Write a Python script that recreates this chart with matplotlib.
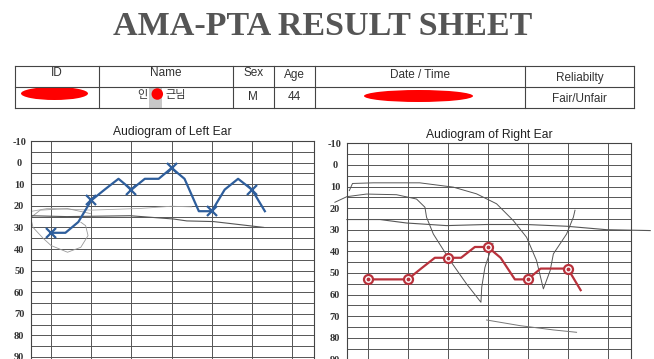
import matplotlib
matplotlib.use("Agg")
import matplotlib.pyplot as plt
import numpy as np
from matplotlib.patches import Ellipse, Rectangle

# 데이터
freqs = [125, 160, 200, 250, 315, 400, 500, 630, 800, 1000,
         1250, 1600, 2000, 2500, 3150, 4000, 5000]
left_db = [32.5, 32.5, 27.5, 17.5, 12.5, 7.5, 12.5, 7.5, 7.5, 2.5,
           7.5, 22.5, 22.5, 12.5, 7.5, 12.5, 22.5]
right_db = [53, 53, 53, 53, 48, 43, 43, 43, 38, 38,
            43, 53, 53, 48, 48, 48, 58]
marked_freqs = [125, 250, 500, 1000, 2000, 4000]
grid_freqs = [125, 250, 500, 1000, 2000, 4000, 8000]
db_ticks = list(range(-10, 100, 10))

headers = ["ID", "Name", "Sex", "Age", "Date / Time", "Reliabilty"]
row_values = ["", "", "M", "44", "", "Fair/Unfair"]

# 연필 자국 (옥타브 위치, dB)
left_pencil_pos = [-0.51, 0.39, 1.97, 3.04, 3.38, 4.04, 5.29]
left_pencil_db = [24.6, 25.0, 24.6, 26.1, 27.0, 27.3, 30.0]
left_faint_pos = [-0.5, -0.08, 1.01, 2.25, 3.0, 3.5]
left_faint_db = [22.6, 21.2, 22.0, 21.2, 20.2, 20.5]
left_loop_pos = [0.98, 0.41, -0.27, -0.51, -0.45, -0.2, 0.0, 0.41, 0.74, 0.92, 0.86, 0.74]
left_loop_db = [23.6, 21.3, 22.0, 25.5, 30, 35, 38.4, 41.5, 39.2, 33.8, 29.2, 27.6]
right_line_pos = [-0.52, 0.31, 0.97, 1.97, 2.97, 3.97, 4.97, 5.97, 7.06]
right_line_db = [25.3, 25.3, 26.9, 28.1, 27.6, 27.6, 28.4, 30.0, 30.4]
right_c1_pos = [-0.46, -0.38, 0.14, 1.3, 2.14, 2.72, 3.22, 3.64, 3.97, 4.22, 4.39,
                4.56, 4.64, 4.97, 5.14, 5.18]
right_c1_db = [11.9, 8.6, 8.3, 8.3, 10.3, 13.4, 18, 25.8, 33.5, 44.3, 57.4,
               48.9, 41.2, 32, 24.2, 21]
right_c2_pos = [-0.82, -0.52, -0.03, 0.72, 1.22, 1.43, 1.47, 1.64, 2.06, 2.47, 2.83,
                2.85, 2.93, 3.13]
right_c2_db = [17.3, 14.7, 13.5, 13.8, 15.8, 19.6, 24.2, 32, 44.3, 55.1, 63.6,
               56.6, 47.4, 36.3]
right_low_pos = [2.97, 3.8, 4.64, 5.22]
right_low_db = [71.8, 74.4, 76.4, 77.5]

W, H = 654, 359
fig = plt.figure(figsize=(W / 100, H / 100), dpi=100)
fig.patch.set_facecolor("white")

# 페이지 좌표 (픽셀)
page = fig.add_axes([0, 0, 1, 1])
page.set_xlim(0, W)
page.set_ylim(H, 0)
page.axis("off")

page.text(323, 35, "AMA-PTA RESULT SHEET", ha="center", va="baseline",
          family="Liberation Serif", fontweight="bold", fontsize=24.5, color="#555555")

# 표
line_c = "#444444"
tx0, tx1 = 14.7, 634
ty0, ty1, ty2 = 66, 86.5, 108
col_x = [tx0, 98.5, 232.7, 273.8, 315.3, 525.4, tx1]
for y in [ty0, ty1, ty2]:
    page.plot([tx0, tx1], [y, y], color=line_c, lw=0.8)
for x in col_x:
    page.plot([x, x], [ty0, ty2], color=line_c, lw=0.8)

head_y = [73, 73, 73, 75, 75, 78]
for i, h in enumerate(headers):
    cx = (col_x[i] + col_x[i + 1]) / 2
    page.text(cx, head_y[i], h, ha="center", va="center", family="Liberation Sans",
              fontsize=8.5, color="#333333")
row_y = [97, 97, 97, 97, 97, 99]
for i, v in enumerate(row_values):
    if v:
        cx = (col_x[i] + col_x[i + 1]) / 2
        page.text(cx, row_y[i], v, ha="center", va="center", family="Liberation Sans",
                  fontsize=8.5, color="#333333")

# 이름 (가운데 글자 가림)
page.add_patch(Rectangle((149.3, ty1 + 0.5), 12.4, ty2 - ty1 - 1, color="#c8c8c8", lw=0))
page.text(142.7, 95, "인", ha="center", va="center",
          family=["Noto Sans CJK KR", "DejaVu Sans"], fontsize=8, color="#333333")
page.text(176, 95, "근님", ha="center", va="center",
          family=["Noto Sans CJK KR", "DejaVu Sans"], fontsize=8, color="#333333")
page.add_patch(Ellipse((157.3, 94), 11.5, 11.5, color="#ff0000", lw=0))
# 가림 표시
page.add_patch(Ellipse((54.5, 93.5), 67, 13, color="#ff0000", lw=0))
page.add_patch(Ellipse((418.5, 96), 109, 12, color="#ff0000", lw=0))


def audiogram(left_px, right_px, top_px, xlo, xhi, title, title_y):
    px_per_db = 2.16
    db_lo, db_hi = -10, 110
    h_px = (db_hi - db_lo) * px_per_db
    ax = fig.add_axes([left_px / W, (H - top_px - h_px) / H,
                       (right_px - left_px) / W, h_px / H])
    ax.set_xscale("log", base=2)
    ax.set_xlim(125 * 2 ** xlo, 125 * 2 ** xhi)
    ax.set_ylim(db_hi, db_lo)
    ax.set_xticks(grid_freqs)
    ax.set_xticks([], minor=True)
    ax.tick_params(axis="x", which="both", length=0, labelbottom=False)
    ax.set_yticks(db_ticks)
    ax.set_yticks(list(range(-5, 110, 10)), minor=True)
    ax.set_yticklabels([str(t) for t in db_ticks])
    ax.tick_params(axis="y", which="both", length=0, pad=8.5)
    for lab in ax.get_yticklabels():
        lab.set_ha("center")
        lab.set_family("Liberation Serif")
        lab.set_fontweight("bold")
        lab.set_fontsize(7.5)
        lab.set_color("#333333")
    ax.grid(True, which="both", color="#555555", lw=0.7)
    ax.set_axisbelow(True)
    for s in ax.spines.values():
        s.set_color("#444444")
        s.set_linewidth(0.8)
    fig.text((left_px + right_px) / 2 / W, 1 - title_y / H, title, ha="center",
             va="center", family="Liberation Sans", fontsize=8.7, color="#222222")
    return ax


def pos2f(p):
    return 125 * 2 ** np.array(p)


axl = audiogram(31, 314, 141, -0.5, 6.545, "Audiogram of Left Ear", 132)
axr = audiogram(346.7, 631, 143.3, -0.525, 6.58, "Audiogram of Right Ear", 135)

# 연필 자국
axl.plot(pos2f(left_faint_pos), left_faint_db, color="#aaaaaa", lw=0.6)
axl.plot(pos2f(left_loop_pos), left_loop_db, color="#999999", lw=0.6)
axl.plot(pos2f(left_pencil_pos), left_pencil_db, color="#555555", lw=0.8)
axr.plot(pos2f(right_line_pos), right_line_db, color="#555555", lw=0.8, clip_on=False)
axr.plot(pos2f(right_c1_pos), right_c1_db, color="#555555", lw=0.7)
axr.plot(pos2f(right_c2_pos), right_c2_db, color="#555555", lw=0.7, clip_on=False)
axr.plot(pos2f(right_low_pos), right_low_db, color="#777777", lw=0.7)

# 왼쪽 귀 (X)
blue = "#2e5e9c"
axl.plot(freqs, left_db, color=blue, lw=1.6, zorder=5)
lmark = [left_db[freqs.index(f)] for f in marked_freqs]
axl.plot(marked_freqs, lmark, ls="none", marker="x", ms=7.5, mew=1.6, color=blue, zorder=6)

# 오른쪽 귀 (O)
red = "#b8323c"
axr.plot(freqs, right_db, color=red, lw=1.6, zorder=5)
rmark = [right_db[freqs.index(f)] for f in marked_freqs]
axr.plot(marked_freqs, rmark, ls="none", marker="o", ms=6.5, mew=1.6, mfc="white",
         mec=red, zorder=6)
axr.plot(marked_freqs, rmark, ls="none", marker="o", ms=1.8, color=red, zorder=7)

fig.savefig("out.png", dpi=100)
